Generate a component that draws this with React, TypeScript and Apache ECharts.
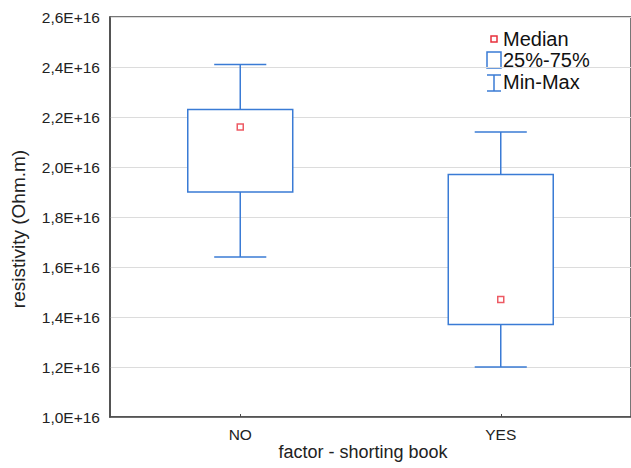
import React, { useEffect, useRef } from "react";
import * as echarts from "echarts";

const categories = ["NO", "YES"];
const lowValues = [1.64e16, 1.2e16];
const q1Values = [1.9e16, 1.37e16];
const medianValues = [2.16e16, 1.47e16];
const q3Values = [2.23e16, 1.97e16];
const highValues = [2.41e16, 2.14e16];
const yTicks = { min: 1.0e16, max: 2.6e16, interval: 0.2e16 };
const legendLabels = ["Median", "25%-75%", "Min-Max"];

const BLUE = "#3a7bd5";
const RED = "#e8313c";
const FONT = "'Liberation Sans', Arial, sans-serif";

export default function App() {
  const ref = useRef<HTMLDivElement>(null);
  useEffect(() => {
    if (!ref.current) return;
    const chart = echarts.init(ref.current, undefined, { renderer: "svg" });
    const boxData = categories.map((_, i) => [i, lowValues[i], q1Values[i], q3Values[i], highValues[i]]);
    const option: any = {
      animation: false,
      backgroundColor: "#fff",
      textStyle: { fontFamily: FONT },
      grid: {
        left: 110,
        top: 17,
        width: 526,
        height: 400,
        show: true,
        borderColor: "#4a4a4a",
        borderWidth: 1.5,
        backgroundColor: "transparent",
      },
      xAxis: {
        type: "category",
        data: categories,
        boundaryGap: true,
        axisLine: { lineStyle: { color: "#4a4a4a", width: 1.5 } },
        axisTick: { show: true, alignWithLabel: true, inside: true, length: 3, lineStyle: { color: "#4a4a4a" } },
        axisLabel: { color: "#222", fontSize: 15.5, fontFamily: FONT, margin: 9 },
        splitLine: { show: false },
      },
      yAxis: {
        type: "value",
        min: yTicks.min,
        max: yTicks.max,
        interval: yTicks.interval,
        axisLine: { show: true, lineStyle: { color: "#4a4a4a", width: 1.5 } },
        axisTick: { show: false },
        axisLabel: {
          color: "#222",
          fontSize: 15.5,
          fontFamily: FONT,
          margin: 10,
          formatter: (v: number) => (v / 1e16).toFixed(1).replace(".", ",") + "E+16",
        },
        splitLine: { show: true, lineStyle: { color: "#dcdcdc", width: 1 } },
      },
      series: [
        {
          type: "custom",
          data: boxData,
          encode: { x: 0, y: [1, 2, 3, 4] },
          renderItem: (params: any, api: any) => {
            const x = api.value(0);
            const lo = api.coord([x, api.value(1)]);
            const q1 = api.coord([x, api.value(2)]);
            const q3 = api.coord([x, api.value(3)]);
            const hi = api.coord([x, api.value(4)]);
            const band = api.size([1, 0])[0];
            const bw = band * 0.403;
            const cw = band * 0.2;
            const cx = lo[0];
            const style = { stroke: BLUE, lineWidth: 1.5, fill: "none" };
            return {
              type: "group",
              children: [
                { type: "rect", shape: { x: cx - bw / 2, y: q3[1], width: bw, height: q1[1] - q3[1] }, style: { ...style, fill: "#fff" } },
                { type: "line", shape: { x1: cx, y1: q3[1], x2: cx, y2: hi[1] }, style },
                { type: "line", shape: { x1: cx, y1: q1[1], x2: cx, y2: lo[1] }, style },
                { type: "line", shape: { x1: cx - cw / 2, y1: hi[1], x2: cx + cw / 2, y2: hi[1] }, style },
                { type: "line", shape: { x1: cx - cw / 2, y1: lo[1], x2: cx + cw / 2, y2: lo[1] }, style },
              ],
            };
          },
          z: 2,
        },
        {
          type: "scatter",
          data: categories.map((_, i) => [i, medianValues[i]]),
          symbol: "rect",
          symbolSize: 6,
          itemStyle: { color: "#fff", borderColor: RED, borderWidth: 1.5 },
          z: 3,
        },
      ],
      graphic: [
        {
          type: "text",
          x: 18,
          y: 229,
          rotation: Math.PI / 2,
          style: { text: "resistivity (Ohm.m)", fill: "#222", font: `19px ${FONT}`, align: "center", verticalAlign: "middle" },
        },
        {
          type: "text",
          x: 363,
          y: 452,
          style: { text: "factor - shorting book", fill: "#222", font: `18px ${FONT}`, align: "center", verticalAlign: "middle" },
        },
        { type: "rect", shape: { x: 491, y: 36, width: 6, height: 6 }, style: { fill: "#fff", stroke: RED, lineWidth: 1.5 } },
        { type: "rect", shape: { x: 487, y: 52, width: 14, height: 16 }, style: { fill: "#fff", stroke: BLUE, lineWidth: 1.5 } },
        { type: "line", shape: { x1: 487, y1: 75, x2: 501, y2: 75 }, style: { stroke: BLUE, lineWidth: 1.5 } },
        { type: "line", shape: { x1: 494, y1: 75, x2: 494, y2: 91 }, style: { stroke: BLUE, lineWidth: 1.5 } },
        { type: "line", shape: { x1: 487, y1: 91, x2: 501, y2: 91 }, style: { stroke: BLUE, lineWidth: 1.5 } },
        ...legendLabels.map((t, i) => ({
          type: "text",
          x: 503,
          y: [39, 60, 82][i],
          style: { text: t, fill: "#111", font: `20px ${FONT}`, align: "left", verticalAlign: "middle" },
        })),
      ],
    };
    chart.setOption(option);
    return () => chart.dispose();
  }, []);
  return <div ref={ref} style={{ position: "fixed", left: 0, top: 0, width: 631, height: 468 }} />;
}
